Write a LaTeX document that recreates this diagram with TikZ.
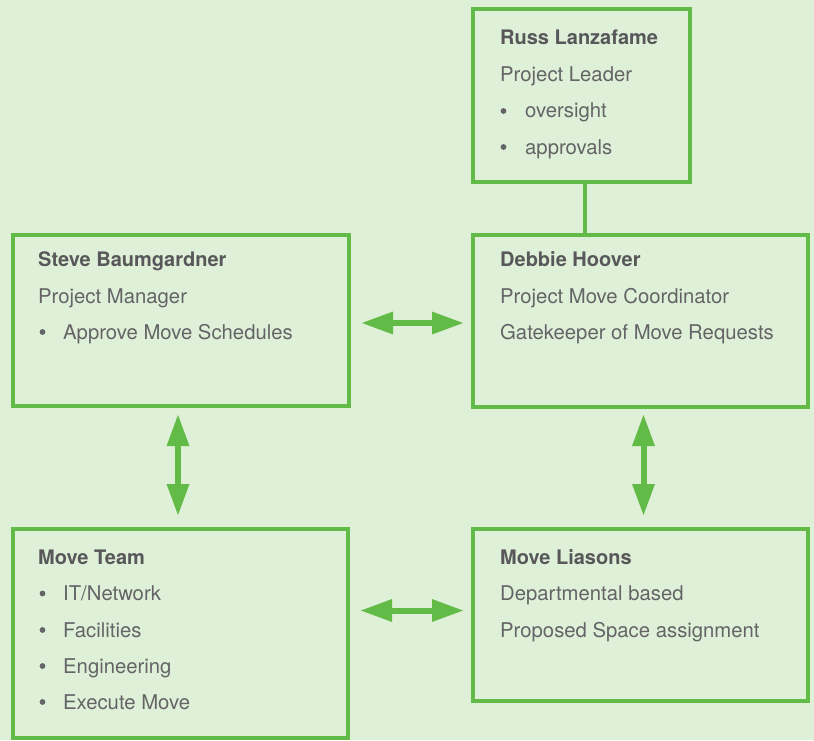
\documentclass[tikz,border=0pt]{standalone}
\usepackage{fontspec}
\setmainfont{TeX Gyre Heros}
\usetikzlibrary{arrows.meta}
\definecolor{bgmint}{RGB}{223,240,216}
\definecolor{leafgreen}{RGB}{99,187,71}
\definecolor{inkgray}{RGB}{88,88,90}
\definecolor{softgray}{RGB}{100,100,102}
\tikzset{
  orgbox/.style={draw=leafgreen, line width=4pt, outer sep=0pt, inner sep=0pt},
  heading/.style={anchor=base west, inner sep=0pt, text=inkgray,
    font=\fontsize{20}{22}\selectfont\bfseries},
  entry/.style={anchor=base west, inner sep=0pt, text=softgray,
    font=\fontsize{20.3}{22}\selectfont},
  dot/.style={circle, fill=softgray, inner sep=0pt, minimum size=5.8pt},
  biarrow/.style={draw=leafgreen, line width=6pt,
    {Triangle[length=31pt,width=23pt,line width=0pt]}-{Triangle[length=31pt,width=23pt,line width=0pt]}},
  tie/.style={draw=leafgreen, line width=4pt}
}
\begin{document}
\begin{tikzpicture}[x=1pt, y=-1pt]
  \useasboundingbox (0,0) rectangle (814,740);
  \fill[bgmint] (0,0) rectangle (814,740);

  % boxes
  \node[orgbox, minimum width=217pt, minimum height=172.5pt] (russ)    at (581.5,95.25) {};
  \node[orgbox, minimum width=335pt, minimum height=172pt]   (debbie)  at (640.5,321) {};
  \node[orgbox, minimum width=336pt, minimum height=171pt]   (steve)   at (181,320.5) {};
  \node[orgbox, minimum width=335pt, minimum height=209pt]   (team)    at (180.5,633.5) {};
  \node[orgbox, minimum width=335pt, minimum height=172pt]   (liasons) at (640.5,615) {};

  % Russ Lanzafame
  \node[heading] (russA) at (500,44)  {Russ Lanzafame};
  \node[entry]   (russB) at (500,81)  {Project Leader};
  \node[dot]     (russCb) at (503.5,111) {};
  \node[entry]   (russC) at (525,117.5) {oversight};
  \node[dot]     (russDb) at (503.5,147) {};
  \node[entry]   (russD) at (525,154) {approvals};

  % Steve Baumgardner
  \node[heading] (steveA) at (38,266) {Steve Baumgardner};
  \node[entry]   (steveB) at (38,303) {Project Manager};
  \node[dot]     (steveCb) at (42.5,332) {};
  \node[entry]   (steveC) at (63,339) {Approve Move Schedules};

  % Debbie Hoover
  \node[heading] (debbieA) at (500,266) {Debbie Hoover};
  \node[entry]   (debbieB) at (500,303) {Project Move Coordinator};
  \node[entry]   (debbieC) at (500,339) {Gatekeeper of Move Requests};

  % Move Team
  \node[heading] (teamA) at (38,564) {Move Team};
  \node[dot]     (teamBb) at (42.5,593.5) {};
  \node[entry]   (teamB) at (63,600.5) {IT/Network};
  \node[dot]     (teamCb) at (42.5,630) {};
  \node[entry]   (teamC) at (63,637) {Facilities};
  \node[dot]     (teamDb) at (42.5,666) {};
  \node[entry]   (teamD) at (63,673) {Engineering};
  \node[dot]     (teamEb) at (42.5,702) {};
  \node[entry]   (teamE) at (63,709) {Execute Move};

  % Move Liasons
  \node[heading] (liasonsA) at (500,564) {Move Liasons};
  \node[entry]   (liasonsB) at (500,600.5) {Departmental based};
  \node[entry]   (liasonsC) at (500,637) {Proposed Space assignment};

  % connectors
  \draw[tie] ([xshift=3.5pt]russ.south) -- ([xshift=-55.5pt]debbie.north);
  \draw[biarrow, shorten <=13pt, shorten >=10pt]
    ([yshift=-2.5pt]steve.east) -- ([yshift=-2pt]debbie.west);
  \draw[biarrow, shorten <=13pt, shorten >=10pt]
    ([yshift=23pt]team.east) -- ([yshift=4.5pt]liasons.west);
  \draw[biarrow, shorten <=9pt, shorten >=14pt]
    ([xshift=-3pt]steve.south) -- ([xshift=-2.5pt]team.north);
  \draw[biarrow, shorten <=8pt, shorten >=14pt]
    ([xshift=3pt]debbie.south) -- ([xshift=3pt]liasons.north);
\end{tikzpicture}
\end{document}
